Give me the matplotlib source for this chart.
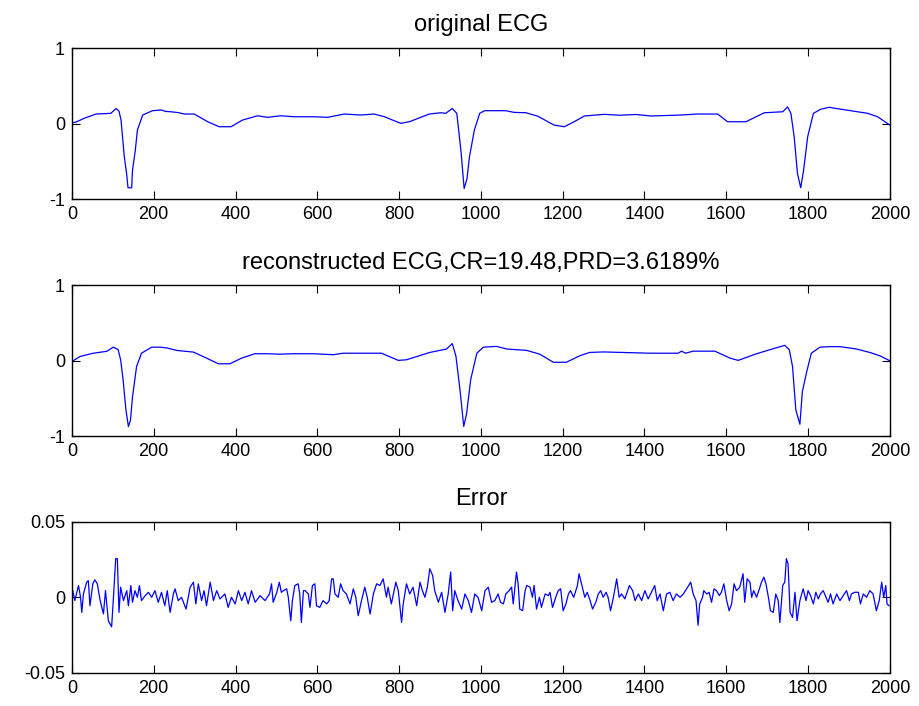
import matplotlib
matplotlib.use("Agg")
import matplotlib.pyplot as plt

plt.rcParams['font.family'] = ['Liberation Sans', 'DejaVu Sans']
plt.rcParams['axes.unicode_minus'] = False

# original ECG (sample index, amplitude)
ecg_x = [0, 10, 30, 59, 95, 108, 115, 120, 128, 134, 137, 146, 148, 155, 160, 173, 197, 218, 230,
         242, 260, 275, 299, 332, 360, 389, 417, 454, 478, 510, 543, 592, 625, 666, 706, 739, 764,
         804, 825, 874, 902, 914, 930, 941, 951, 959, 966, 972, 984, 997, 1009, 1061, 1081, 1110,
         1138, 1179, 1204, 1228, 1253, 1302, 1340, 1380, 1416, 1489, 1530, 1579, 1603, 1648, 1693,
         1738, 1750, 1758, 1766, 1774, 1782, 1789, 1799, 1813, 1831, 1852, 1880, 1921, 1946, 1970, 2000]
ecg_y = [0.007, 0.02, 0.07, 0.126, 0.135, 0.2, 0.165, 0.046, -0.44, -0.68, -0.85, -0.85, -0.62,
         -0.35, -0.086, 0.113, 0.17, 0.18, 0.16, 0.156, 0.145, 0.126, 0.126, 0.024, -0.042, -0.042,
         0.046, 0.103, 0.082, 0.103, 0.09, 0.09, 0.082, 0.126, 0.113, 0.126, 0.09, 0.003, 0.024,
         0.126, 0.143, 0.135, 0.2, 0.135, -0.35, -0.86, -0.73, -0.44, -0.086, 0.135, 0.17, 0.17,
         0.148, 0.143, 0.1, -0.02, -0.042, 0.024, 0.1, 0.122, 0.11, 0.12, 0.1, 0.113, 0.126, 0.126,
         0.024, 0.024, 0.143, 0.156, 0.22, 0.135, -0.175, -0.66, -0.85, -0.62, -0.175, 0.135, 0.19,
         0.215, 0.19, 0.156, 0.135, 0.09, -0.02]

# reconstructed ECG
rec_x = [0, 20, 52, 85, 101, 113, 119, 125, 132, 138, 143, 148, 158, 170, 195, 215, 232, 256, 297,
         329, 358, 386, 415, 447, 476, 508, 541, 590, 639, 663, 704, 757, 798, 818, 875, 916, 930,
         939, 949, 958, 965, 975, 990, 1006, 1038, 1063, 1112, 1144, 1177, 1209, 1242, 1266, 1299,
         1413, 1482, 1491, 1500, 1519, 1572, 1609, 1629, 1674, 1707, 1743, 1754, 1762, 1770, 1780,
         1786, 1796, 1808, 1829, 1853, 1878, 1918, 1951, 1975, 2000]
rec_y = [-0.01, 0.057, 0.1, 0.125, 0.18, 0.147, 0.013, -0.25, -0.65, -0.87, -0.79, -0.48, -0.076,
         0.1, 0.18, 0.18, 0.17, 0.137, 0.115, 0.035, -0.04, -0.04, 0.035, 0.093, 0.093, 0.087,
         0.093, 0.093, 0.08, 0.1, 0.1, 0.1, 0.005, 0.013, 0.11, 0.156, 0.227, 0.057, -0.39, -0.87,
         -0.7, -0.25, 0.1, 0.18, 0.19, 0.156, 0.137, 0.087, -0.02, -0.02, 0.067, 0.11, 0.117, 0.1,
         0.1, 0.127, 0.1, 0.127, 0.127, 0.035, 0.005, 0.093, 0.147, 0.204, 0.147, -0.076, -0.65,
         -0.84, -0.41, -0.16, 0.1, 0.18, 0.187, 0.187, 0.156, 0.11, 0.067, 0.0]

# reconstruction error
err_x = [2, 7, 16, 21, 24, 28, 36, 40, 44, 51, 56, 62, 69, 77, 82, 89, 97, 101, 107, 111, 115, 119,
         126, 134, 138, 144, 148, 154, 160, 165, 170, 179, 187, 195, 203, 211, 219, 227, 233, 240,
         248, 252, 260, 268, 279, 289, 297, 303, 309, 317, 323, 329, 338, 346, 354, 362, 374, 382,
         390, 399, 407, 415, 423, 431, 439, 448, 460, 472, 483, 488, 492, 501, 507, 512, 517, 525,
         529, 535, 539, 545, 553, 557, 561, 566, 570, 578, 582, 588, 594, 598, 606, 614, 623, 629,
         635, 639, 643, 651, 657, 663, 671, 680, 688, 694, 700, 708, 716, 722, 729, 737, 745, 753,
         761, 769, 773, 781, 792, 798, 806, 810, 818, 826, 834, 843, 851, 857, 863, 869, 875, 882,
         887, 896, 904, 912, 920, 926, 931, 936, 944, 953, 961, 969, 977, 985, 993, 1002, 1010,
         1018, 1026, 1034, 1042, 1048, 1055, 1061, 1069, 1075, 1079, 1087, 1091, 1095, 1102, 1108,
         1112, 1120, 1126, 1130, 1136, 1143, 1148, 1157, 1165, 1169, 1175, 1183, 1189, 1195, 1201,
         1208, 1214, 1219, 1227, 1236, 1240, 1246, 1254, 1260, 1267, 1273, 1281, 1287, 1293, 1299,
         1306, 1311, 1317, 1324, 1332, 1338, 1344, 1352, 1363, 1371, 1377, 1385, 1393, 1401, 1409,
         1417, 1425, 1431, 1438, 1446, 1454, 1462, 1470, 1478, 1487, 1495, 1503, 1513, 1519, 1526,
         1531, 1535, 1542, 1545, 1552, 1558, 1564, 1570, 1576, 1583, 1588, 1594, 1601, 1607, 1613,
         1619, 1625, 1633, 1637, 1641, 1645, 1651, 1658, 1662, 1667, 1674, 1681, 1686, 1692, 1697,
         1703, 1708, 1715, 1721, 1727, 1731, 1738, 1743, 1747, 1751, 1756, 1762, 1768, 1773, 1780,
         1788, 1795, 1800, 1806, 1813, 1819, 1825, 1830, 1837, 1844, 1849, 1855, 1861, 1870, 1878,
         1886, 1894, 1901, 1906, 1914, 1923, 1928, 1935, 1943, 1951, 1959, 1967, 1974, 1980, 1985,
         1990, 1993, 1998]
err_y = [0.0044, -0.0022, 0.0078, 0.0, -0.01, 0.0022, 0.01, 0.011, -0.0056, 0.0089, 0.0116, 0.0089,
         -0.0022, -0.011, 0.0044, -0.0156, -0.0196, -0.0022, 0.0256, 0.0256, -0.01, 0.0067, -0.0022,
         0.0044, -0.0056, 0.0078, -0.0033, 0.0044, 0.0, 0.0078, -0.0022, 0.0011, 0.0033, 0.0, 0.0044,
         -0.0033, 0.0033, -0.0056, 0.0044, -0.01, 0.0022, 0.0056, -0.0022, 0.0, -0.0078, 0.0067,
         0.01, -0.0044, 0.0089, -0.0022, 0.0044, -0.0056, 0.01, -0.0022, 0.0044, -0.0011, 0.0022,
         -0.0067, 0.0, -0.0044, 0.0044, -0.0022, 0.0033, -0.0044, 0.0044, -0.0033, 0.0011, -0.0022,
         0.0022, 0.0089, -0.0033, 0.0033, 0.01, 0.0033, 0.0044, 0.0056, 0.0, -0.0156, -0.0022,
         0.0078, 0.0089, 0.0022, -0.0167, 0.0044, 0.0044, 0.0022, -0.0067, 0.0078, 0.0089, -0.0056,
         -0.0067, -0.0022, -0.0044, -0.0022, 0.0122, 0.0122, 0.0022, 0.0, 0.0089, 0.0044, 0.0022,
         -0.0044, 0.0056, 0.0, -0.0122, -0.0022, 0.0067, 0.0, -0.0111, 0.0022, 0.0089, 0.0078,
         0.0122, 0.0, 0.0067, -0.0044, 0.01, 0.0044, -0.0167, -0.0044, 0.0089, 0.0022, 0.0067,
         -0.0056, 0.01, 0.0044, 0.0, 0.0067, 0.0189, 0.0144, 0.0044, -0.0033, 0.0033, -0.01, 0.0022,
         0.0167, -0.0089, 0.0044, -0.0022, -0.0078, 0.0022, -0.0022, -0.01, 0.0022, 0.0, -0.0089,
         0.0044, 0.0067, -0.0033, -0.0022, 0.0022, -0.0033, -0.0044, 0.0022, 0.0044, 0.0067, -0.0044,
         0.0167, 0.0089, -0.0078, -0.0089, 0.0044, 0.0078, 0.0067, 0.0, 0.0078, -0.0078, 0.0,
         -0.0067, 0.0022, 0.0011, 0.0033, -0.0067, 0.0, 0.0044, 0.0056, -0.0089, -0.0044, 0.0022,
         0.0044, 0.0, 0.0078, 0.0156, 0.0089, 0.0, 0.0033, -0.0022, -0.0078, -0.0033, 0.0022,
         0.0044, 0.0, 0.0033, 0.0, -0.0089, 0.0, 0.0122, 0.0, 0.0022, -0.0011, 0.0078, 0.0044,
         -0.0022, 0.0022, -0.0022, 0.0044, -0.0011, 0.0033, 0.0078, -0.0022, 0.0022, -0.0089,
         0.0022, 0.0033, -0.0022, 0.0022, 0.0, 0.0022, 0.0056, 0.01, 0.0022, -0.0022, -0.0185,
         -0.0044, 0.0, 0.0044, 0.0022, 0.0033, -0.0033, 0.0056, 0.0044, 0.0011, 0.0033, 0.0089,
         -0.0022, -0.0089, -0.0044, 0.0089, 0.0044, 0.0067, 0.0111, 0.0156, -0.0033, 0.0122, 0.01,
         0.0, 0.0044, 0.0, 0.0056, 0.01, 0.0133, 0.0089, 0.0, -0.0089, -0.01, 0.0022, -0.0022,
         -0.0167, 0.0078, 0.01, 0.0256, 0.0222, -0.01, -0.0133, 0.0033, -0.0156, -0.0022, 0.0056,
         -0.0022, 0.0044, 0.0011, -0.0044, 0.0033, -0.0011, 0.0022, 0.0044, 0.0, -0.0033, 0.0022,
         -0.0044, 0.0022, -0.0022, 0.0011, 0.0044, -0.0022, 0.0022, 0.0033, 0.0033, -0.0044, 0.0022,
         0.0, 0.0044, 0.0022, -0.0089, -0.0022, 0.01, 0.0, 0.0078, -0.0044, -0.0056]

panels = [
    (ecg_x, ecg_y, 'original ECG', [-1, 0, 1], ['-1', '0', '1'], (-1, 1)),
    (rec_x, rec_y, 'reconstructed ECG,CR=19.48,PRD=3.6189%', [-1, 0, 1], ['-1', '0', '1'], (-1, 1)),
    (err_x, err_y, 'Error', [-0.05, 0, 0.05], ['-0.05', '0', '0.05'], (-0.05, 0.05)),
]

fig = plt.figure(figsize=(9.19, 7.06), dpi=100)
bottoms = [0.718, 0.382, 0.047]

for (x, y, title, yt, ytl, ylim), b in zip(panels, bottoms):
    ax = fig.add_axes([0.0783, b, 0.890, 0.214])
    ax.plot(x, y, color='#0000ff', linewidth=0.9)
    ax.set_xlim(0, 2000)
    ax.set_ylim(*ylim)
    ax.set_xticks(range(0, 2001, 200))
    ax.set_yticks(yt)
    ax.set_yticklabels(ytl)
    ax.tick_params(direction='in', length=6, width=0.8, top=True, right=True,
                   labelsize=13, pad=5)
    for s in ax.spines.values():
        s.set_linewidth(1.0)
    ax.set_title(title, fontsize=17, pad=12)

fig.savefig('out.png', dpi=100)
